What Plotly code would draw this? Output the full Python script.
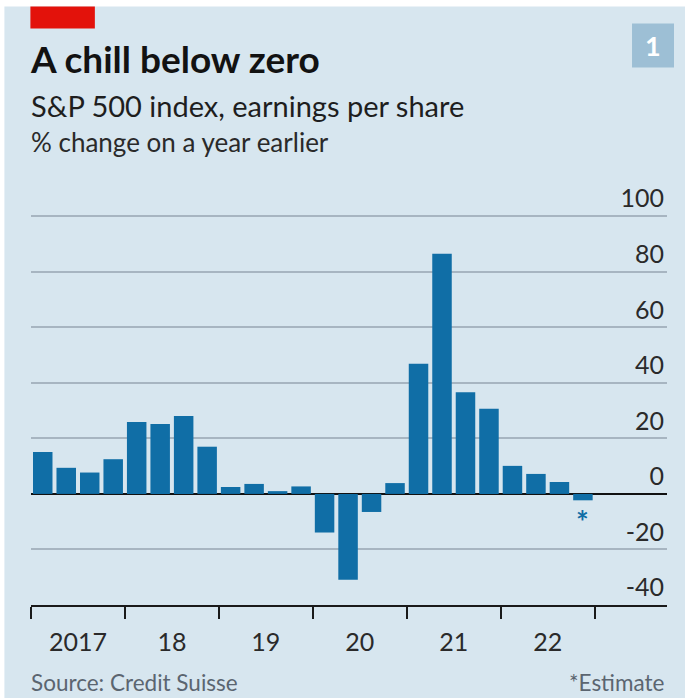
import plotly.graph_objects as go

# ---- data ----
quarters = ["2017Q1", "2017Q2", "2017Q3", "2017Q4",
            "2018Q1", "2018Q2", "2018Q3", "2018Q4",
            "2019Q1", "2019Q2", "2019Q3", "2019Q4",
            "2020Q1", "2020Q2", "2020Q3", "2020Q4",
            "2021Q1", "2021Q2", "2021Q3", "2021Q4",
            "2022Q1", "2022Q2", "2022Q3", "2022Q4"]
eps_change = [15.1, 9.4, 7.7, 12.5,
              25.9, 25.2, 28.1, 17.0,
              2.5, 3.6, 1.0, 2.7,
              -13.9, -30.9, -6.5, 3.9,
              46.9, 86.5, 36.6, 30.7,
              10.1, 7.2, 4.3, -2.3]
year_labels = ["2017", "18", "19", "20", "21", "22"]
y_ticks = [-40, -20, 0, 20, 40, 60, 80, 100]

# ---- geometry (pixels) ----
W, H = 685, 698
L, R, T, B = 30.6, 18, 194.3, 93
PW, PH = W - L - R, H - T - B


def px(x):
    return (x - L) / PW


def py(y):
    return 1 - (y - T) / PH


BG = "#d7e6ef"
BAR = "#106ea6"
GRID = "#a7b5c1"

xidx = list(range(len(quarters)))
year_pos = [1.5 + 4 * i for i in range(len(year_labels))]

fig = go.Figure()
fig.add_trace(go.Bar(x=xidx, y=eps_change, marker=dict(color=BAR, line=dict(width=0)),
                     hovertext=quarters, showlegend=False))

fig.update_layout(
    width=W, height=H,
    margin=dict(l=L, r=R, t=T, b=B, autoexpand=False),
    paper_bgcolor="white",
    plot_bgcolor="rgba(0,0,0,0)",
    bargap=0.17,
    font=dict(family="Lato", color="#222222"),
    xaxis=dict(
        range=[-0.5, 26.58],
        tickmode="array", tickvals=year_pos, ticktext=year_labels,
        ticks="outside", ticklen=14, tickcolor="rgba(0,0,0,0)",
        tickfont=dict(size=25, color="#2a2a2a"),
        minor=dict(tickmode="array", tickvals=[-0.5 + 4 * i for i in range(7)],
                   ticks="outside", ticklen=12, tickwidth=2, tickcolor="#1a1a1a",
                   showgrid=False),
        showline=True, linecolor="#1a1a1a", linewidth=2,
        showgrid=False, zeroline=False, fixedrange=True,
    ),
    yaxis=dict(
        range=[-40, 108], side="right",
        tickmode="array", tickvals=y_ticks, ticktext=[str(v) for v in y_ticks],
        ticklabelposition="inside top", ticklabeloverflow="allow",
        ticks="", tickfont=dict(size=25, color="#2a2a2a"),
        showgrid=True, gridcolor=GRID, gridwidth=2,
        zeroline=True, zerolinecolor="#111111", zerolinewidth=2,
        showline=False, fixedrange=True,
    ),
)

shapes = [
    dict(type="rect", xref="paper", yref="paper", layer="below",
         x0=px(4), x1=px(686), y0=py(7), y1=py(699), fillcolor=BG, line=dict(width=0)),
    dict(type="rect", xref="paper", yref="paper", layer="below",
         x0=px(30), x1=px(94.5), y0=py(7), y1=py(29), fillcolor="#e3120b", line=dict(width=0)),
    dict(type="rect", xref="paper", yref="paper", layer="below",
         x0=px(632), x1=px(674), y0=py(24), y1=py(68), fillcolor="#9dbfd5", line=dict(width=0)),
]
fig.update_layout(shapes=shapes)

ann = [
    dict(text="<b>A chill below zero</b>", x=px(28), y=py(59), size=37, color="#121212",
         xanchor="left"),
    dict(text="S&P 500 index, earnings per share", x=px(29), y=py(106), size=29,
         color="#1e1e1e", xanchor="left"),
    dict(text="% change on a year earlier", x=px(29), y=py(142), size=26,
         color="#2a2a2a", xanchor="left"),
    dict(text="Source: Credit Suisse", x=px(29), y=py(682), size=22.5,
         color="#5b6570", xanchor="left"),
    dict(text="*Estimate", x=px(667), y=py(682), size=22.5,
         color="#5b6570", xanchor="right"),
    dict(text="<b>1</b>", x=px(653), y=py(46), size=27, color="white", xanchor="center"),
]
annotations = []
for a in ann:
    annotations.append(dict(text=a["text"], xref="paper", yref="paper", x=a["x"], y=a["y"],
                            xanchor=a["xanchor"], yanchor="middle", showarrow=False,
                            font=dict(size=a["size"], color=a["color"], family="Lato")))
# estimate marker under the last bar
annotations.append(dict(text="<b>*</b>", x=xidx[-1], y=eps_change[-1], xref="x", yref="y",
                        yanchor="top", yshift=-1, showarrow=False,
                        font=dict(size=30, color=BAR, family="Lato")))
fig.update_layout(annotations=annotations)

fig.write_html("out.html", config={"displayModeBar": False},
               post_script="document.body.style.margin='0';")
